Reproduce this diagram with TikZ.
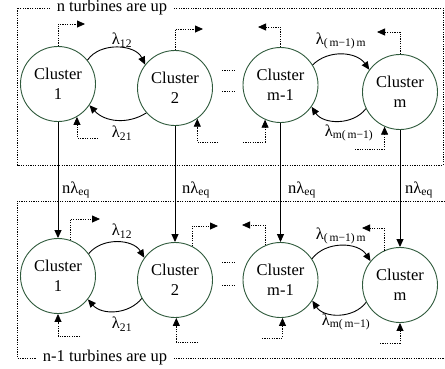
\documentclass[tikz,border=0pt]{standalone}
\usepackage{fontspec}
\setmainfont{Liberation Serif}
\usetikzlibrary{arrows.meta}
\definecolor{cgreen}{HTML}{2F5A3C}
\begin{document}
\begin{tikzpicture}[x=1pt,y=-1pt,
  every node/.style={font=\fontsize{16.5}{20}\selectfont},
  cl/.style={circle,draw=cgreen,line width=0.9pt,minimum size=75pt,inner sep=0pt,align=center},
  dotl/.style={line width=0.8pt,dash pattern=on 1.2pt off 1.2pt},
  dotarr/.style={dotl,-{Triangle[length=8pt,width=7pt]}},
  solarr/.style={line width=0.9pt,-{Triangle[length=8pt,width=7pt]}},
  lab/.style={inner sep=0pt},
  ttl/.style={fill=white,inner xsep=7pt,inner ysep=1pt}
]
\useasboundingbox (0,0) rectangle (445,368);

% boxes
\draw[dotl] (17,8) rectangle (443,165);
\node[ttl] (t1) at (112,8) {n turbines are up};
\draw[dotl] (445,201) -- (17,201) -- (17,358) -- (445,358);
\node[ttl] (t2) at (105,358) {n-1 turbines are up};

% clusters
\node[cl] (a1) at (58,84) {Cluster\\1};
\node[cl] (a2) at (175,88) {Cluster\\2};
\node[cl] (a3) at (280.5,85) {Cluster\\m-1};
\node[cl] (a4) at (400,92) {Cluster\\m};
\node[cl] (b1) at (58,276) {Cluster\\1};
\node[cl] (b2) at (175,280) {Cluster\\2};
\node[cl] (b3) at (280.5,280) {Cluster\\m-1};
\node[cl] (b4) at (400,285) {Cluster\\m};

% ellipsis dots
\draw[dotl] (222,70) -- (235,70);
\draw[dotl] (222,91) -- (235,91);
\draw[dotl] (222,262) -- (235,262);
\draw[dotl] (222,285) -- (235,285);

% vertical transitions
\draw[solarr] (a1) -- (b1);
\draw[solarr] (a2) -- (b2);
\draw[solarr] (a3) -- (b3);
\draw[solarr] (a4) -- (b4);
\node[lab,anchor=base west] (n1) at (62,193) {nλ\textsubscript{eq}};
\node[lab,anchor=base west] (n2) at (182,193) {nλ\textsubscript{eq}};
\node[lab,anchor=base west] (n3) at (288,193) {nλ\textsubscript{eq}};
\node[lab,anchor=base west] (n4) at (405,193) {nλ\textsubscript{eq}};

% arcs
\draw[solarr] (a1.39) to[bend left=60] (a2.142);
\draw[solarr] (a2.221) to[bend left=40] (a1.326);
\draw[solarr] (a3.32) to[bend left=50] (a4.144);
\draw[solarr] (a4.206) to[bend left=55] (a3.325);
\draw[solarr] (b1.36) to[bend left=55] (b2.144);
\draw[solarr] (b2.209) to[bend left=50] (b1.322);
\draw[solarr] (b3.34) to[bend left=55] (b4.141);
\draw[solarr] (b4.207) to[bend left=55] (b3.327);

\node[lab] (l1) at (122,40) {λ\textsubscript{12}};
\node[lab] (l2) at (122,133) {λ\textsubscript{21}};
\node[lab] (l3) at (341,41) {λ\textsubscript{(\,m−1)\,m}};
\node[lab] (l4) at (349,133) {λ\textsubscript{m(\,m−1)}};
\node[lab] (l5) at (122,231) {λ\textsubscript{12}};
\node[lab] (l6) at (122,324) {λ\textsubscript{21}};
\node[lab] (l7) at (341,236) {λ\textsubscript{(\,m−1)\,m}};
\node[lab] (l8) at (346,322) {λ\textsubscript{m(\,m−1)}};

% self in/out dotted arrows, top row
\coordinate (o1) at (85,24);  \draw[dotarr] (a1.90) |- (o1);
\coordinate (i1) at (98,138); \draw[dotarr] (i1) -| (a1.300);
\coordinate (o2) at (203,29); \draw[dotarr] (a2.90) |- (o2);
\coordinate (i2) at (218,142); \draw[dotarr] (i2) -| (a2.306);
\coordinate (o3) at (258,27); \draw[dotarr] (a3.90) |- (o3);
\coordinate (i3) at (243,142); \draw[dotarr] (i3) -| (a3.246);
\coordinate (o4) at (377,32); \draw[dotarr] (a4.90) |- (o4);
\coordinate (i4) at (355,149); \draw[dotarr] (i4) -| (a4.246);
% bottom row
\coordinate (p1) at (100,219); \draw[dotarr] (b1.71) |- (p1);
\coordinate (j1) at (80,336);  \draw[dotarr] (j1) -| (b1.270);
\coordinate (p2) at (218,226); \draw[dotarr] (b2.63) |- (p2);
\coordinate (j2) at (198,342); \draw[dotarr] (j2) -| (b2.272);
\coordinate (p3) at (242,225); \draw[dotarr] (b3.114) |- (p3);
\coordinate (j3) at (262,338); \draw[dotarr] (j3) -| (b3.273);
\coordinate (p4) at (362,228); \draw[dotarr] (b4.115) |- (p4);
\coordinate (j4) at (380,343); \draw[dotarr] (j4) -| (b4.270);
\end{tikzpicture}
\end{document}
